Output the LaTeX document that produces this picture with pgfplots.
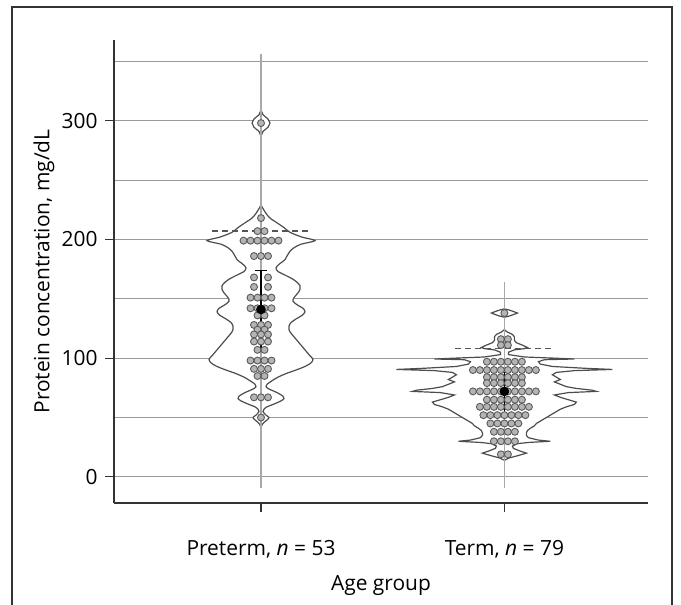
\documentclass[border=0pt]{standalone}
\usepackage{fontspec}
\setmainfont{Open Sans}
\usepackage{pgfplots}
\usepackage{pgfplotstable}
\pgfplotsset{compat=1.18}

\definecolor{gridgray}{HTML}{9A9A9A}
\definecolor{axiscol}{HTML}{333333}
\definecolor{outline}{HTML}{4D4D4D}
\definecolor{stem}{HTML}{A8A8A8}
\definecolor{dotfill}{HTML}{B4B4B4}
\definecolor{dotedge}{HTML}{5A5A5A}
\definecolor{dashcol}{HTML}{555555}

% violin half-widths: v = value (mg/dL), w = half width in px (243.5 px = 1 x unit)
\pgfplotstableread{
v w
309 0
305 2
301.5 7
298 9
294.5 7
291 2
287 0
}\preTop

\pgfplotstableread{
v w
229 0
226 2
222 5
218 9
214 16
210 23
206 29
202 41
199 54
196 40
193 33
190 29
186 26
183 24
179 18
176 15
173 17
170 24
167 31
164 36
161 39
158 39
155 37
151 33
148 32
145 36
142 42
139 44
136 41
133 35
130 30
127 28
124 28
121 30
118 33
114 37
110 41
106 45
102 49
99 52
96 50
93 44
90 35
87 25
84 17
81 11
78 6
76 5
74 8
71 16
68 22
66 23
64 20
61 12
59 6
57 3
55 2
52 5
50 8
48 6
45 2
42 0
}\preBody

\pgfplotstableread{
v w
141.5 0
140.5 5
139 10
138 13
137 10
135.5 5
134.5 0
}\termTop

\pgfplotstableread{
v w
124 0
122 3
120 8
118 10
115 10
113 12
111 18
109 23
108 20
107 10
105 4
103 4
101 20
100 50
99.3 70
98.7 40
97 34
95 36
93 48
91.5 80
90.5 108
89.5 70
88 52
86 48
84 52
82 56
80 50
78 56
76 62
74.5 72
73 88
72 92
71 64
69 50
67 56
65 64
63 72
61 70
59 62
57 56
55 52
53 48
51 44
49 40
47 36
45 32
43 30
41 26
39 23
37 22
35 22
33 24
31 34
30 46
29 24
28 13
26 8
24 9
22 15
20 22
18 14
16 5
14 0
}\termBody

% dots: s = slot offset in the row (7 px each), v = value
\pgfplotstableread{
s v
0 298
0 218
-0.5 207
0.5 207
-2.5 199
-1.5 199
-0.5 199
0.5 199
1.5 199
2.5 199
-1 186
0 186
1 186
-1 168
1 168
-1 160
1 160
-1.5 151
-0.5 151
0.5 151
1.5 151
-1.5 142
-0.5 142
0.5 142
1.5 142
-0.5 136
0.5 136
-1 128
0 128
1 128
-0.5 124
0.5 124
-1 120
0 120
1 120
-1 114
0 114
1 114
-0.5 107
0.5 107
-1.5 98
-0.5 98
0.5 98
1.5 98
-1 91
0 91
1 91
-0.5 85
0.5 85
-1 67
0 67
1 67
0 50
}\preDots

\pgfplotstableread{
s v
0 138
-0.5 116
0.5 116
-0.5 111
0.5 111
-2.5 97
-1.5 97
-0.5 97
0.5 97
1.5 97
2.5 97
-4.5 90
-3.5 90
-2.5 90
-1.5 90
-0.5 90
0.5 90
1.5 90
2.5 90
3.5 90
4.5 90
-2.5 84
-1.5 84
-0.5 84
0.5 84
1.5 84
2.5 84
-2.5 79
-1.5 79
-0.5 79
0.5 79
1.5 79
2.5 79
-4.5 72
-3.5 72
-2.5 72
-1.5 72
-0.5 72
0.5 72
1.5 72
2.5 72
3.5 72
4.5 72
-2.5 65
-1.5 65
-0.5 65
0.5 65
1.5 65
2.5 65
-3.5 59
-2.5 59
-1.5 59
-0.5 59
0.5 59
1.5 59
2.5 59
3.5 59
-3 52
-2 52
-1 52
0 52
1 52
2 52
3 52
-2 45
-1 45
0 45
1 45
2 45
-1.5 38
-0.5 38
0.5 38
1.5 38
-1.5 30
-0.5 30
0.5 30
1.5 30
-0.5 19
0.5 19
}\termDots

\begin{document}
\fontsize{10.5}{12.6}\selectfont
\begin{tikzpicture}
\path[use as bounding box] (0,0) rectangle (340.5bp,302.5bp);
\draw[line width=0.75bp, axiscol] (6bp,0) -- (6bp,299bp) -- (336bp,299bp) -- (336bp,0);
\begin{axis}[
    at={(57bp,51bp)}, anchor=south west,
    width=267bp, height=231.5bp, scale only axis,
    xmin=0.396, xmax=2.59, ymin=-22, ymax=368,
    axis x line*=bottom, axis y line*=left,
    axis line style={-, draw=axiscol, line width=0.6bp},
    tick align=outside,
    major tick length=4.5bp, minor tick length=0pt,
    tick style={draw=axiscol, line width=0.6bp},
    xtick={1,2},
    xticklabels={{Preterm, \textit{n} = 53},{Term, \textit{n} = 79}},
    xticklabel style={yshift=-10.5bp},
    ytick={0,100,200,300},
    minor ytick={50,150,250,350},
    ymajorgrids, yminorgrids,
    major grid style={draw=gridgray, line width=0.5bp},
    minor grid style={draw=gridgray, line width=0.5bp},
    /pgf/number format/assume math mode=true,
    xlabel={Age group},
    xlabel style={yshift=-1.5bp},
    ylabel={Protein concentration, mg/dL},
    ylabel style={yshift=-3.5bp},
]

% --- preterm violin ---
\addplot[fill=white, draw=none] table[x expr=1+\thisrow{w}/243.5, y=v]{\preTop} -- cycle;
\addplot[fill=white, draw=none] table[x expr=1-\thisrow{w}/243.5, y=v]{\preTop} -- cycle;
\addplot[fill=white, draw=none, smooth] table[x expr=1+\thisrow{w}/243.5, y=v]{\preBody} -- cycle;
\addplot[fill=white, draw=none, smooth] table[x expr=1-\thisrow{w}/243.5, y=v]{\preBody} -- cycle;
\addplot[outline, line width=0.6bp] table[x expr=1+\thisrow{w}/243.5, y=v]{\preTop};
\addplot[outline, line width=0.6bp] table[x expr=1-\thisrow{w}/243.5, y=v]{\preTop};
\addplot[outline, line width=0.6bp, smooth] table[x expr=1+\thisrow{w}/243.5, y=v]{\preBody};
\addplot[outline, line width=0.6bp, smooth] table[x expr=1-\thisrow{w}/243.5, y=v]{\preBody};

% --- term violin ---
\addplot[fill=white, draw=none] table[x expr=2+\thisrow{w}/243.5, y=v]{\termTop} -- cycle;
\addplot[fill=white, draw=none] table[x expr=2-\thisrow{w}/243.5, y=v]{\termTop} -- cycle;
\addplot[fill=white, draw=none] table[x expr=2+\thisrow{w}/243.5, y=v]{\termBody} -- cycle;
\addplot[fill=white, draw=none] table[x expr=2-\thisrow{w}/243.5, y=v]{\termBody} -- cycle;
\addplot[outline, line width=0.6bp] table[x expr=2+\thisrow{w}/243.5, y=v]{\termTop};
\addplot[outline, line width=0.6bp] table[x expr=2-\thisrow{w}/243.5, y=v]{\termTop};
\addplot[outline, line width=0.6bp] table[x expr=2+\thisrow{w}/243.5, y=v]{\termBody};
\addplot[outline, line width=0.6bp] table[x expr=2-\thisrow{w}/243.5, y=v]{\termBody};

% stems
\addplot[stem, line width=0.75bp] coordinates {(1,-9) (1,356)};
\addplot[stem, line width=0.75bp] coordinates {(2,-9) (2,164)};

% data points
\addplot[only marks, mark=*, mark size=1.75bp, mark options={fill=dotfill, draw=dotedge, line width=0.45bp}]
    table[x expr=1+\thisrow{s}*0.02875, y=v]{\preDots};
\addplot[only marks, mark=*, mark size=1.75bp, mark options={fill=dotfill, draw=dotedge, line width=0.45bp}]
    table[x expr=2+\thisrow{s}*0.02875, y=v]{\termDots};

% dashed reference lines
\addplot[dashcol, line width=0.75bp, dash pattern=on 3bp off 2bp] coordinates {(0.80,207) (1.20,207)};
\addplot[dashcol, line width=0.75bp, dash pattern=on 3bp off 2bp] coordinates {(1.795,108) (2.205,108)};

% mean and error bars
\addplot[black, line width=0.8bp] coordinates {(1,107) (1,174)};
\addplot[black, line width=0.8bp] coordinates {(0.975,107) (1.025,107)};
\addplot[black, line width=0.8bp] coordinates {(0.975,174) (1.025,174)};
\addplot[black, line width=0.8bp] coordinates {(2,52) (2,88)};
\addplot[black, line width=0.8bp] coordinates {(1.975,52) (2.025,52)};
\addplot[black, line width=0.8bp] coordinates {(1.975,88) (2.025,88)};
\addplot[only marks, mark=*, mark size=2.2bp, black] coordinates {(1,141) (2,72)};

\end{axis}
\end{tikzpicture}
\end{document}
